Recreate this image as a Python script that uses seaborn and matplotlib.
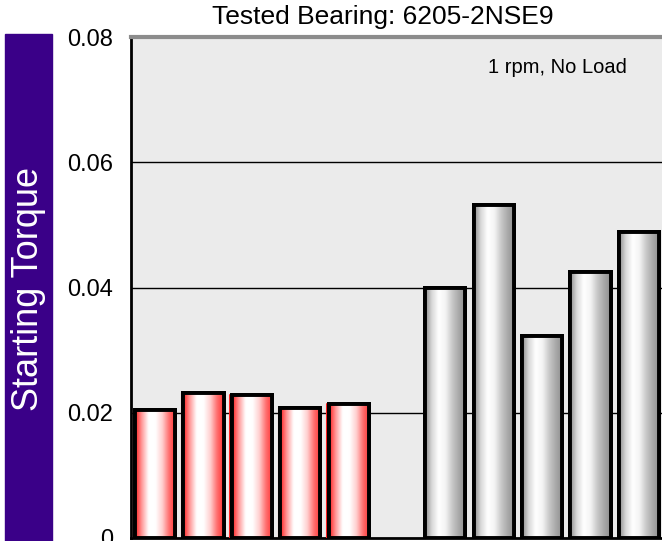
import matplotlib
matplotlib.use("Agg")
import matplotlib.pyplot as plt
import matplotlib.colors as mcolors
import numpy as np
import pandas as pd
import seaborn as sns

# bar slots (slot "6" left empty as in the original chart)
slots = ["1", "2", "3", "4", "5", "6", "7", "8", "9", "10", "11"]
bar_slots = ["1", "2", "3", "4", "5", "7", "8", "9", "10", "11"]
torque = [0.0204, 0.0231, 0.0228, 0.0207, 0.0214,
          0.0399, 0.0531, 0.0323, 0.0425, 0.0488]
group = ["A"] * 5 + ["B"] * 5
yticks = [0, 0.02, 0.04, 0.06, 0.08]
yticklabels = ["0", "0.02", "0.04", "0.06", "0.08"]

df = pd.DataFrame({"slot": bar_slots, "torque": torque, "group": group})

sns.set_style("white")
plt.rcParams["font.family"] = ["Liberation Sans", "DejaVu Sans"]
plt.rcParams["text.color"] = "black"

fig = plt.figure(figsize=(6.62, 5.41), dpi=100)
ax = fig.add_axes([131 / 662, 3 / 541, 532 / 662, 501 / 541])
ax.set_facecolor("#ebebeb")

sns.barplot(data=df, x="slot", y="torque", hue="group", order=slots,
            palette={"A": "#ff9a9a", "B": "#cfcfcf"}, dodge=False,
            width=0.83, edgecolor="black", linewidth=2.8, legend=False,
            ax=ax, zorder=3)

# cylinder-like shading inside each bar
red_cm = mcolors.LinearSegmentedColormap.from_list(
    "redbar", ["#ff1a1a", "#ff9a9a", "#ffffff", "#ffffff", "#ffd0d0",
               "#ff7070", "#ff3030"])
gray_cm = mcolors.LinearSegmentedColormap.from_list(
    "graybar", ["#8a8a8a", "#d8d8d8", "#ffffff", "#f4f4f4", "#c8c8c8",
                "#a8a8a8", "#8c8c8c"])
grad = np.linspace(0, 1, 256).reshape(1, -1)
for p, g in zip(ax.patches, group):
    x0, y0 = p.get_x(), p.get_y()
    w, h = p.get_width(), p.get_height()
    im = ax.imshow(grad, cmap=red_cm if g == "A" else gray_cm,
                   extent=[x0, x0 + w, y0, y0 + h], aspect="auto",
                   zorder=3.5, interpolation="bicubic")
    im.set_clip_path(p)
    frame = plt.Rectangle((x0, y0), w, h, fill=False, edgecolor="black",
                          linewidth=2.8, zorder=4)
    ax.add_patch(frame)
    if g == "A":
        ax.plot([x0 - 0.03, x0 - 0.03], [y0, y0 + h], color="#ff2020",
                lw=1.5, zorder=2.9)

ax.set_xlim(-0.5, 10.5)
ax.set_ylim(0, 0.08)
ax.set_yticks(yticks)
ax.set_yticklabels(yticklabels)
ax.set_xticks([])
ax.set_xlabel("")
ax.set_ylabel("")
ax.tick_params(axis="y", direction="inout", length=10, width=1.2,
               labelsize=17, pad=8, colors="black")
for yv in yticks[1:4]:
    ax.axhline(yv, color="black", lw=1, zorder=1)

for side in ["left", "bottom", "top", "right"]:
    ax.spines[side].set_visible(True)
ax.spines["left"].set_color("black")
ax.spines["left"].set_linewidth(2)
ax.spines["bottom"].set_color("black")
ax.spines["bottom"].set_linewidth(2)
ax.spines["top"].set_color("#8c8c8c")
ax.spines["top"].set_linewidth(3)
ax.spines["right"].set_visible(False)

ax.text(627 / 532 - 131 / 532, 1 - 30 / 501, "1 rpm, No Load",
        transform=ax.transAxes, ha="right", va="center", fontsize=14.5,
        color="black")

fig.text(383 / 662, 1 - 17 / 541, "Tested Bearing: 6205-2NSE9",
         ha="center", va="center", fontsize=19, color="black")

# purple y-label box
fig.patches.append(plt.Rectangle((5 / 662, 0), 47 / 662, 507 / 541,
                                 transform=fig.transFigure,
                                 color="#3a0088", zorder=0))
fig.text(29 / 662, 1 - 289 / 541, "Starting Torque", rotation=90,
         ha="center", va="center", fontsize=26, color="white")

fig.savefig("out.png", dpi=100)
